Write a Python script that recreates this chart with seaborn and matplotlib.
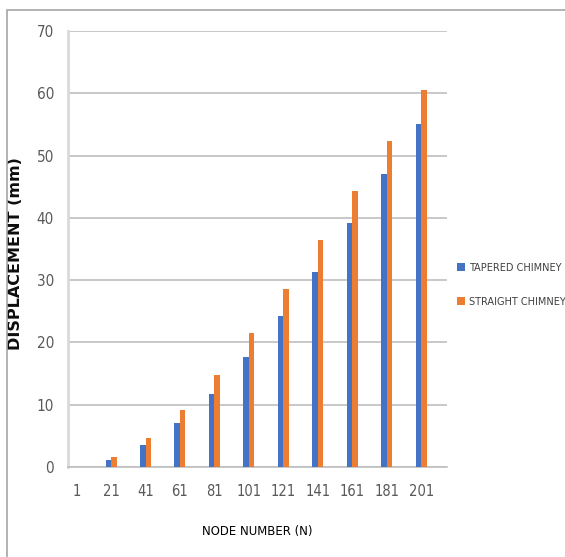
import numpy as np
import pandas as pd
import matplotlib.pyplot as plt
import seaborn as sns
from matplotlib.patches import Rectangle

# Node numbers on the category axis (every 10th node, labelled every 20th)
nodes = [str(n) for n in range(1, 212, 10)]
tick_labels = [n if i % 2 == 0 else '' for i, n in enumerate(nodes)]

# Displacement values (mm)
data_nodes = ['1', '21', '41', '61', '81', '101', '121', '141', '161', '181', '201']
tapered = [0.0, 1.2, 3.5, 7.0, 11.8, 17.6, 24.2, 31.3, 39.1, 47.0, 55.1]
straight = [0.0, 1.6, 4.6, 9.1, 14.8, 21.5, 28.6, 36.4, 44.3, 52.3, 60.5]

df = pd.DataFrame({
    'Node': data_nodes * 2,
    'Displacement': tapered + straight,
    'Type': ['TAPERED CHIMNEY'] * len(data_nodes) + ['STRAIGHT CHIMNEY'] * len(data_nodes),
})

sns.set_style('white')
plt.rcParams['font.family'] = ['DejaVu Sans']
plt.rcParams['font.stretch'] = 'condensed'

fig = plt.figure(figsize=(5.65, 5.57), dpi=100)
ax = fig.add_axes([68 / 565, 90 / 557, 379 / 565, 436 / 557])

sns.barplot(data=df, x='Node', y='Displacement', hue='Type', order=nodes,
            palette=['#4472C4', '#ED7D31'], width=0.64, linewidth=0,
            saturation=1, ax=ax, zorder=3)

ax.set_ylim(0, 70)
ax.set_xlim(-0.5, len(nodes) - 0.5)
ax.set_yticks(range(0, 71, 10))
ax.yaxis.grid(True, color='#bfbfbf', linewidth=1.2, zorder=0)
ax.tick_params(axis='y', length=0, labelsize=11, labelcolor='#595959', pad=10)

ax.set_xticks(range(len(nodes)))
ax.set_xticklabels(tick_labels, fontsize=10.5, color='#595959')
ax.set_xticks(np.arange(-0.5, len(nodes)), minor=True)
ax.tick_params(axis='x', which='major', length=0, pad=12)
ax.tick_params(axis='x', which='minor', length=5, color='#bfbfbf', width=1)

for s in ['top', 'right']:
    ax.spines[s].set_visible(False)
ax.spines['left'].set_color('#d9d9d9')
ax.spines['left'].set_linewidth(2)
ax.spines['bottom'].set_color('#bfbfbf')
ax.spines['bottom'].set_linewidth(1.2)

ax.set_xlabel('NODE NUMBER (N)', fontsize=9.4, color='#000000', labelpad=19)
ax.set_ylabel('DISPLACEMENT (mm)', fontsize=11.5, fontweight='bold',
              fontstretch='normal', color='#0d0d0d')
ax.yaxis.set_label_coords(-0.119, 0.49)

ax.legend(loc='center left', bbox_to_anchor=(453 / 565, 272 / 557),
          bbox_transform=fig.transFigure, frameon=False, fontsize=7.8,
          handlelength=0.75, handleheight=0.75, handletextpad=0.3,
          labelspacing=2.2, borderaxespad=0, labelcolor='#404040')

# chart-area border
fig.patches.append(Rectangle((7 / 565, -0.05), 1.1, (557 - 10) / 557 + 0.05,
                             transform=fig.transFigure, fill=False,
                             edgecolor='#a6a6a6', linewidth=1.2))

plt.savefig('out.png', dpi=100)
plt.close()
